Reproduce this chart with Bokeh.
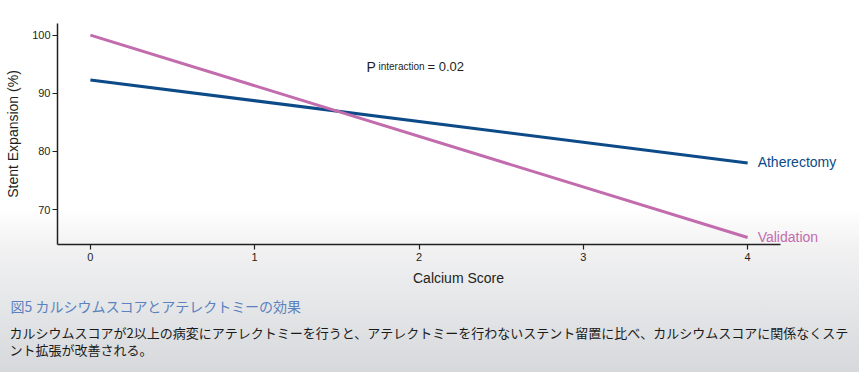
from bokeh.plotting import figure
from bokeh.models import Label, FixedTicker, ColumnDataSource, Title
from bokeh.embed import file_html
from bokeh.resources import INLINE

# ---- data ----
calcium_score = [0, 4]
atherectomy = [92.3, 78.0]
validation = [100.0, 65.2]
series_names = ["Atherectomy", "Validation"]
x_ticks = [0, 1, 2, 3, 4]
y_ticks = [70, 80, 90, 100]
x_label = "Calcium Score"
y_label = "Stent Expansion (%)"
p_main, p_sub, p_val = "P", "interaction", "= 0.02"
caption_title = "図5 カルシウムスコアとアテレクトミーの効果"
caption_lines = [
    "カルシウムスコアが2以上の病変にアテレクトミーを行うと、アテレクトミーを行わないステント留置に比べ、カルシウムスコアに関係なくステ",
    "ント拡張が改善される。",
]

# ---- layout ----
W, H = 859, 372
FL, FT, FB = 57, 23, 244
AX_R = 780            # where the x axis line ends
X0, X1 = -0.2, 4.2    # visible axis extent
Y0, Y1 = 64, 102
PXU = (AX_R - FL) / (X1 - X0)
X1F = X0 + (W - FL) / PXU   # frame extends to the right edge for the end labels

BLUE = "#0c4a88"
PINK = "#c26cad"
INK = "#231f20"
LATIN = "Liberation Sans"
CJK = "Noto Sans CJK JP"


def dx(fx):
    return X0 + (fx - FL) / PXU


def dy(fy):
    return Y1 - (fy - FT) / (FB - FT) * (Y1 - Y0)


p = figure(width=W, height=H, x_range=(X0, X1F), y_range=(Y0, Y1),
           output_backend="svg", toolbar_location=None,
           min_border_left=FL, min_border_top=FT,
           min_border_right=0, min_border_bottom=H - FB)
p.styles = {"background": "linear-gradient(to bottom, #ffffff 0%, #ffffff 56%, "
                          "#f1f1f2 67%, #e6e7e9 81%, #d6d8db 100%)"}
p.border_fill_color = None
p.background_fill_color = None
p.outline_line_color = None
p.grid.visible = False

for ax in (p.xaxis[0], p.yaxis[0]):
    ax.axis_line_color = INK
    ax.axis_line_width = 1.5
    ax.major_tick_line_color = INK
    ax.major_tick_line_width = 1.2
    ax.major_tick_out = 5
    ax.major_tick_in = 0
    ax.minor_tick_line_color = None
    ax.major_label_text_font = LATIN
    ax.major_label_text_font_size = "11px"
    ax.major_label_text_color = INK
    ax.axis_label_text_font = LATIN
    ax.axis_label_text_font_size = "14px"
    ax.axis_label_text_font_style = "normal"
    ax.axis_label_text_color = INK

p.xaxis.ticker = FixedTicker(ticks=x_ticks)
p.yaxis.ticker = FixedTicker(ticks=y_ticks)
p.xaxis.bounds = (X0, X1)
p.xaxis.axis_label = x_label
p.yaxis.axis_label = y_label
p.xaxis.major_label_standoff = 3
p.yaxis.major_label_standoff = 2
p.xaxis.axis_label_standoff = 6
p.yaxis.axis_label_standoff = 8

src = ColumnDataSource(dict(x=calcium_score, a=atherectomy, v=validation))
p.line("x", "a", source=src, line_color=BLUE, line_width=3)
p.line("x", "v", source=src, line_color=PINK, line_width=3)

for name, ys, col in ((series_names[0], atherectomy, BLUE), (series_names[1], validation, PINK)):
    p.add_layout(Label(x=calcium_score[-1], y=ys[-1], text=name, x_offset=10, y_offset=1,
                       text_font=LATIN, text_font_size="14px", text_color=col,
                       text_baseline="middle"))

# P interaction annotation
base = dy(66)
p.add_layout(Label(x=dx(366), y=base, text=p_main, text_font=LATIN,
                   text_font_size="14px", text_color=INK, text_baseline="alphabetic"))
p.add_layout(Label(x=dx(378), y=base, text=p_sub, text_font=LATIN,
                   text_font_size="10px", text_color=INK, text_baseline="alphabetic"))
p.add_layout(Label(x=dx(427), y=base, text=p_val, text_font=LATIN,
                   text_font_size="13px", text_color=INK, text_baseline="alphabetic"))

# caption (titles stacked below the x axis panel)
p.add_layout(Title(text=caption_title, text_font=CJK, text_font_size="14px",
                   text_font_style="normal", text_color="#5a82bf", align="left",
                   offset=10 - FL, standoff=11), "below")
for line, so in zip(caption_lines, (-2, -6)):
    p.add_layout(Title(text=line, text_font=CJK, text_font_size="13px",
                       text_font_style="normal", text_color="#1a1a1a", align="left",
                       offset=9 - FL, standoff=so), "below")

open("out.html", "w").write(file_html(p, INLINE))
